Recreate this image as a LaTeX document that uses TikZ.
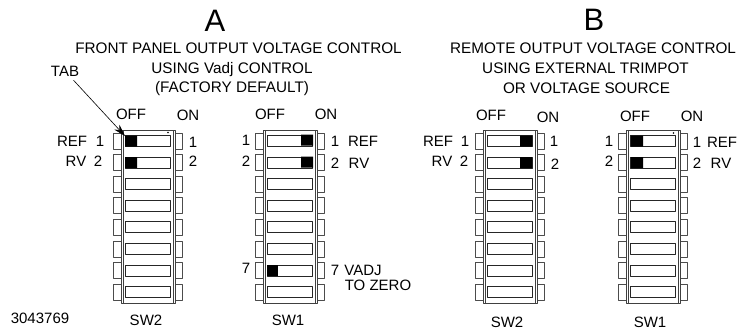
\documentclass[tikz,border=0pt]{standalone}
\usetikzlibrary{arrows.meta}
\usepackage{fontspec}
\setmainfont{Liberation Sans}
\tikzset{
	lbl/.style={inner sep=0pt,text height=10.7pt,text depth=0pt,font={\fontsize{15pt}{17pt}\selectfont}},
	titl/.style={lbl,font={\fontsize{15.3pt}{17pt}\selectfont}},
	bigletter/.style={inner sep=0pt,font={\fontsize{31pt}{33pt}\selectfont}},
	bodyline/.style={line width=0.8pt,draw=black!75},
	tabline/.style={line width=0.6pt,draw=black!70},
	slotline/.style={line width=0.8pt,draw=black!85},
}
% one switch block: left edge of the body
\newcommand{\dipbody}[1]{
	\foreach \r in {141,162.5,184,205.5,227,249,270.5,292}{
		\draw[tabline] (#1,\r-8) -- (#1-7.5,\r-8) -- (#1-7.5,\r+8) -- (#1,\r+8);
		\draw[tabline] (#1+54,\r-8) -- (#1+61.5,\r-8) -- (#1+61.5,\r+8) -- (#1+54,\r+8);
		\draw[slotline] (#1+4.5,\r-5.5) rectangle (#1+49.5,\r+5.5);
	}
	\draw[bodyline] (#1,130) rectangle (#1+54,303);
	\draw[bodyline] (#1+2,130) -- (#1+2,303) (#1+52,130) -- (#1+52,303);
}
\begin{document}
\begin{tikzpicture}[x=1pt,y=-1pt,line join=round,>=stealth]
	\useasboundingbox (0,0) rectangle (738,330);
	% Khoi SW2, SW1
	\dipbody{121}
	\dipbody{263}
	\dipbody{483}
	\dipbody{626}
	% Tabs
	\fill (125,135.5) rectangle (137,146.5) (125,157) rectangle (137,168);
	\fill (301,134.5) rectangle (313,145.5) (301,156.5) rectangle (313,167.5);
	\fill (267,265) rectangle (277.5,276);
	\fill (520,135.5) rectangle (532,146.5) (520,157) rectangle (532,168);
	\fill (631,135.5) rectangle (643,146.5) (631,157) rectangle (643,168);
	\fill (168,132.5) circle (0.8) (673.5,133) circle (0.8);
	% Titles
	\node[bigletter] (letA) at (215,21) {A};
	\node[bigletter] (letB) at (594,20) {B};
	\node[titl] (titA1) at (238.5,48) {FRONT PANEL OUTPUT VOLTAGE CONTROL};
	\node[titl] (titA2) at (232,68) {USING Vadj CONTROL};
	\node[titl] (titA3) at (232,87.5) {(FACTORY DEFAULT)};
	\node[titl] (titB1) at (593,48) {REMOTE OUTPUT VOLTAGE CONTROL};
	\node[titl] (titB2) at (585.5,68) {USING EXTERNAL TRIMPOT};
	\node[titl] (titB3) at (586.5,88) {OR VOLTAGE SOURCE};
	% Labels A, SW2
	\node[lbl] (offa) at (131,114) {OFF};
	\node[lbl] (ona) at (188,115) {ON};
	\node[lbl] (refa) at (72,141) {REF};
	\node[lbl] (rva) at (76,161) {RV};
	\node[lbl] (la1) at (100,141) {1};
	\node[lbl] (la2) at (98,161) {2};
	\node[lbl] (ra1) at (193,142) {1};
	\node[lbl] (ra2) at (193,161) {2};
	\node[lbl] (swa2) at (146,320) {SW2};
	\node[lbl] (partno) at (40,318) {3043769};
	% Labels A, SW1
	\node[lbl] (offb) at (270,114) {OFF};
	\node[lbl] (onb) at (326,114) {ON};
	\node[lbl] (lb1) at (246,140) {1};
	\node[lbl] (lb2) at (246,161) {2};
	\node[lbl] (lb7) at (246,268) {7};
	\node[lbl] (rb1) at (335,141) {1};
	\node[lbl] (rb2) at (335,163) {2};
	\node[lbl] (rb7) at (335,270) {7};
	\node[lbl] (refb) at (363,141) {REF};
	\node[lbl] (rvb) at (359,163) {RV};
	\node[lbl] (vadj) at (363,270) {VADJ};
	\node[lbl] (tozero) at (378,285) {TO ZERO};
	\node[lbl] (swa1) at (288,320) {SW1};
	% Labels B, SW2
	\node[lbl] (offc) at (491,115) {OFF};
	\node[lbl] (onc) at (548,117) {ON};
	\node[lbl] (refc) at (438,141) {REF};
	\node[lbl] (rvc) at (442,161) {RV};
	\node[lbl] (lc1) at (465,141) {1};
	\node[lbl] (lc2) at (464,161) {2};
	\node[lbl] (rc1) at (554,141) {1};
	\node[lbl] (rc2) at (555,164) {2};
	\node[lbl] (swb2) at (507,322.5) {SW2};
	% Labels B, SW1
	\node[lbl] (offd) at (635,116) {OFF};
	\node[lbl] (ond) at (692,116) {ON};
	\node[lbl] (ld1) at (609,141) {1};
	\node[lbl] (ld2) at (609,161) {2};
	\node[lbl] (rd1) at (697,142) {1};
	\node[lbl] (rd2) at (697,163) {2};
	\node[lbl] (refd) at (722,142) {REF};
	\node[lbl] (rvd) at (721,163) {RV};
	\node[lbl] (swb1) at (650,322.5) {SW1};
	% Arrow
	\node[lbl] (tab) at (65,71) {TAB};
	\coordinate (tabtip) at (125,136);
	\draw[-{Stealth[length=12pt,width=7pt]},line width=0.6pt,shorten <=5pt] (tab) -- (tabtip);
\end{tikzpicture}
\end{document}
